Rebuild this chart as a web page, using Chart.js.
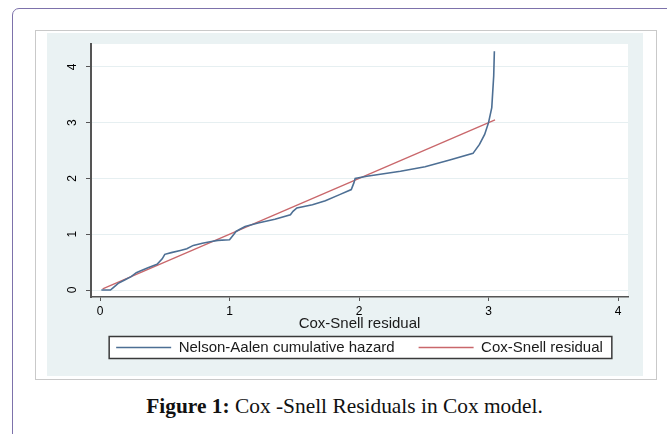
<!DOCTYPE html>
<html>
<head>
<meta charset="utf-8">
<script src="https://cdn.jsdelivr.net/npm/chart.js@4.4.0/dist/chart.umd.min.js"></script>
<style>
body{margin:0;width:667px;height:434px;overflow:hidden;background:#fff;position:relative;font-family:"Liberation Sans",Arial,sans-serif}
#outer{position:absolute;left:12px;top:8px;width:700px;height:500px;border:1px solid #7d72ab;border-radius:7px}
#frame{position:absolute;left:35px;top:30px;width:620px;height:348px;border:1px solid #c9c9c9;background:#fff}
#bg{position:absolute;left:47px;top:33px;width:596px;height:343px;background:#eaf2f3}
#caption{position:absolute;left:0;width:689px;top:394px;text-align:center;font-family:"Liberation Serif","Times New Roman",serif;font-size:21.4px;color:#111}
</style>
</head>
<body>
<div id="outer"></div>
<div id="frame"></div>
<div id="bg"><canvas id="myChart" width="596" height="343"></canvas></div>
<div id="caption"><b>Figure 1:</b> Cox -Snell Residuals in Cox model.</div>
<script>
// Nelson-Aalen cumulative hazard
var naX = [0.01,0.08,0.10,0.14,0.19,0.24,0.28,0.31,0.37,0.44,0.48,0.50,0.55,0.62,0.67,0.72,0.79,0.86,0.91,1.00,
           1.02,1.05,1.08,1.12,1.22,1.35,1.47,1.49,1.52,1.64,1.74,1.85,1.94,1.96,1.97,2.06,2.32,2.51,2.70,2.88,
           2.93,2.97,3.00,3.025,3.04,3.045];
var naY = [0,0,0.04,0.12,0.18,0.24,0.31,0.34,0.40,0.46,0.56,0.64,0.67,0.71,0.74,0.80,0.84,0.87,0.89,0.90,
           0.96,1.05,1.09,1.14,1.20,1.27,1.35,1.41,1.47,1.53,1.60,1.71,1.80,1.92,2.00,2.04,2.13,2.21,2.33,2.45,
           2.61,2.79,3.00,3.27,3.84,4.28];
// Cox-Snell residual reference line
var csX = [0.02, 3.05];
var csY = [0.02, 3.05];

var xTicks = [0, 1, 2, 3, 4];
var yTicks = [0, 1, 2, 3, 4];
var seriesNames = ['Nelson-Aalen cumulative hazard', 'Cox-Snell residual'];
var xTitle = 'Cox-Snell residual';

var FONT = '"Liberation Sans", Arial, sans-serif';

function toPoints(xs, ys){
  return xs.map(function(x, i){ return {x: x, y: ys[i]}; });
}

// white plot region + legend box (stata look)
var stataBoxes = {
  id: 'stataBoxes',
  beforeDraw: function(chart){
    var c = chart.ctx, a = chart.chartArea, lg = chart.legend;
    c.save();
    c.fillStyle = '#fff';
    c.fillRect(a.left, a.top, a.right - a.left, a.bottom - a.top);
    var pad = lg.options.labels.padding;
    var rowW = lg.lineWidths[0] - pad;
    var start = (lg.left + pad + lg.right - lg.lineWidths[0]) / 2;
    var mid = lg.top + pad + lg.options.labels.font.size / 2;
    c.fillRect(start - 7, mid - 11, rowW + 16, 22);
    c.strokeStyle = '#3a3a3a';
    c.lineWidth = 1.5;
    c.strokeRect(start - 7, mid - 11, rowW + 16, 22);
    c.restore();
  }
};

var ctx = document.getElementById('myChart').getContext('2d');
var myChart = new Chart(ctx, {
  type: 'scatter',
  data: {
    datasets: [{
      label: seriesNames[0],
      data: toPoints(naX, naY),
      showLine: true,
      borderColor: '#4d6f94',
      backgroundColor: '#4d6f94',
      borderWidth: 1.6,
      pointRadius: 0,
      tension: 0
    }, {
      label: seriesNames[1],
      data: toPoints(csX, csY),
      showLine: true,
      borderColor: '#c9676b',
      backgroundColor: '#c9676b',
      borderWidth: 1.3,
      pointRadius: 0,
      tension: 0
    }]
  },
  options: {
    responsive: false,
    animation: false,
    layout: { padding: { left: 0, top: 11, right: 15, bottom: 11 } },
    plugins: {
      tooltip: { enabled: false },
      legend: {
        position: 'bottom',
        fullSize: false,   // centre under the plot, not the canvas
        labels: {
          usePointStyle: true,
          pointStyle: 'line',
          pointStyleWidth: 55,
          padding: 24,
          color: '#1a1a1a',
          font: { family: FONT, size: 15, lineHeight: 1 }
        }
      }
    },
    scales: {
      x: {
        type: 'linear',
        min: -0.07,
        max: 4.077,
        afterBuildTicks: function(s){ s.ticks = xTicks.map(function(v){ return {value: v}; }); },
        afterFit: function(s){ s.height = 19; s.paddingLeft = 0; s.paddingRight = 0; },
        ticks: { padding: 3, maxRotation: 0, color: '#000', font: { family: FONT, size: 12 } },
        grid: { drawOnChartArea: false, tickColor: '#555', tickLength: 4 },
        border: { color: '#555', width: 1.5 },
        title: { display: true, text: xTitle, color: '#1a1a1a', padding: { top: 0, bottom: -15 },
                 font: { family: FONT, size: 15, lineHeight: 1 } }
      },
      y: {
        type: 'linear',
        min: -0.125,
        max: 4.41,
        afterBuildTicks: function(s){ s.ticks = yTicks.map(function(v){ return {value: v}; }); },
        afterFit: function(s){ s.width = 44; s.paddingTop = 0; s.paddingBottom = 0; },
        ticks: { minRotation: 90, maxRotation: 90, padding: 10, crossAlign: 'center', color: '#000',
                 font: { family: FONT, size: 12 } },
        grid: { color: '#e6eff1', tickColor: '#555', tickLength: 5 },
        border: { color: '#555', width: 2 }
      }
    }
  },
  plugins: [stataBoxes]
});
</script>
</body>
</html>
